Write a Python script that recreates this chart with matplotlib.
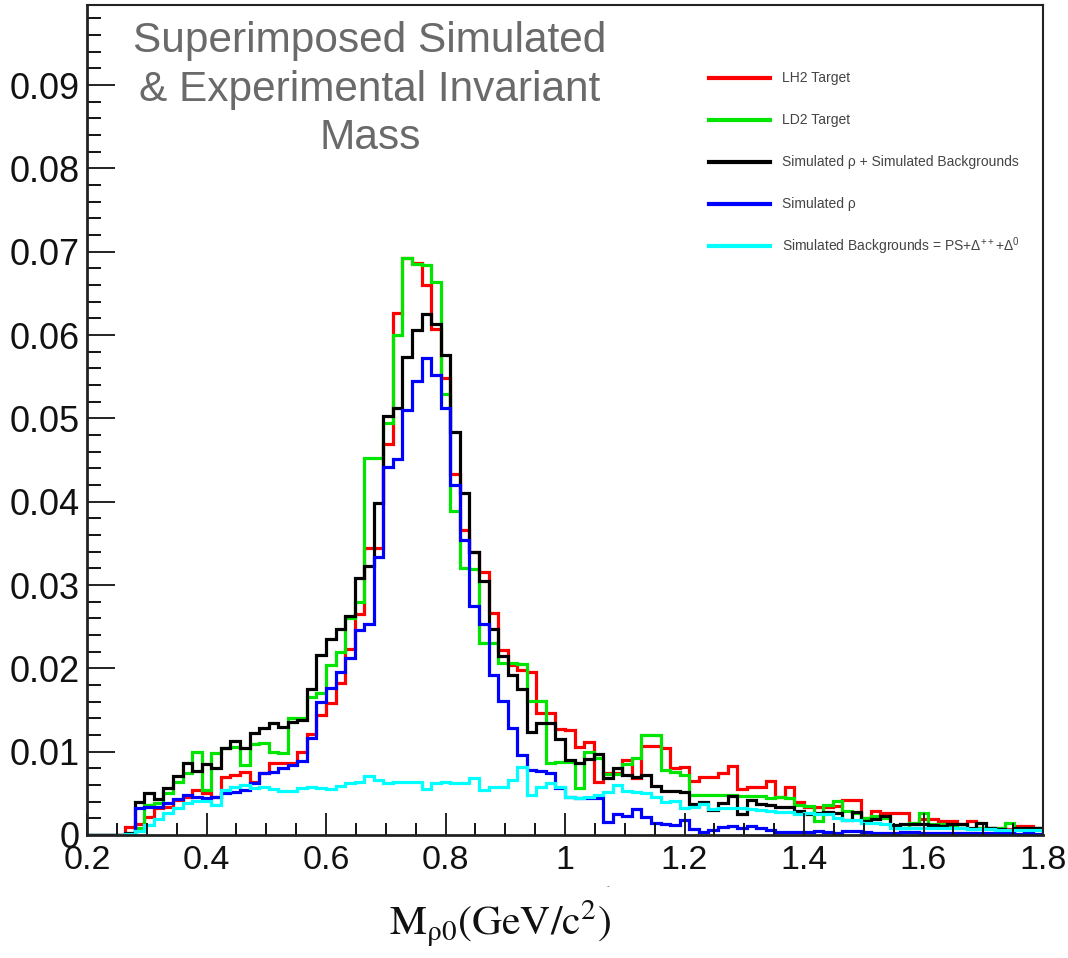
import numpy as np
import matplotlib
matplotlib.use("Agg")
import matplotlib.pyplot as plt
from matplotlib.ticker import MultipleLocator, FixedLocator, FixedFormatter
from matplotlib.lines import Line2D

# ---------------- data (histogram contents, in units of 1e-3) ----------------
x_min, x_max, n_bins = 0.2, 1.8, 100

lh2_target = [0, 0, 0, 0,
              1.0, 1.3, 2.2, 3.2, 3.4, 4.2,
              4.6, 5.4, 5.0, 4.6, 7.0, 7.2, 7.6, 6.4, 7.5, 8.6,
              8.6, 8.6, 10.0, 12.1, 14.4, 15.8, 18.2, 22.3, 26.5, 34.5,
              34.5, 46.9, 62.6, 69.3, 68.6, 66.0, 60.7, 54.8, 43.3, 36.6,
              34.0, 31.6, 26.6, 22.2, 20.4, 19.8, 19.6, 14.6, 14.6, 12.7,
              12.6, 10.6, 11.2, 6.4, 7.4, 7.4, 9.0, 6.8, 10.7, 10.7,
              10.4, 8.0, 8.2, 6.5, 7.0, 7.0, 7.5, 8.3, 5.5, 5.8,
              5.8, 6.5, 4.6, 5.8, 4.0, 3.4, 3.4, 3.4, 3.5, 4.2,
              4.2, 2.0, 2.9, 2.7, 2.6, 2.6, 1.3, 1.9, 1.9, 1.7,
              1.7, 1.3, 1.7, 0.9, 0.9, 0.8, 0.7, 1.1, 1.1, 0.9]

ld2_target = [0, 0, 0, 0, 0,
              0.8, 3.6, 3.8, 5.0, 6.4,
              7.4, 10.0, 5.4, 9.9, 10.4, 10.6, 8.4, 10.9, 11.0, 10.0,
              9.8, 14.0, 14.0, 16.6, 17.0, 20.4, 22.0, 26.0, 28.0, 45.2,
              45.2, 49.5, 60.0, 69.3, 68.5, 68.4, 66.4, 52.9, 38.9, 32.0,
              31.9, 23.0, 23.0, 20.6, 20.6, 20.5, 16.1, 16.1, 8.6, 8.8,
              8.8, 5.6, 10.0, 9.3, 7.3, 7.3, 8.5, 9.2, 12.0, 12.0,
              7.8, 7.6, 7.2, 4.8, 4.8, 4.8, 4.8, 4.8, 4.7, 4.7,
              4.7, 4.5, 4.6, 4.5, 3.6, 3.5, 1.7, 3.6, 4.1, 2.9,
              2.7, 2.1, 2.3, 2.1, 1.1, 0.9, 1.5, 2.6, 1.3, 1.3,
              1.2, 0.9, 0.7, 0.9, 0.9, 0.9, 1.4, 0.7, 0.5, 0.9]

sim_total = [0, 0, 0, 0,
             0.2, 4.0, 5.0, 4.3, 5.6, 7.1,
             8.7, 7.7, 8.5, 8.1, 10.5, 11.3, 10.4, 12.2, 12.9, 13.5,
             13.0, 13.6, 13.8, 17.5, 21.6, 23.5, 24.7, 26.3, 30.9, 32.3,
             39.8, 50.3, 51.3, 57.4, 60.6, 62.5, 61.3, 57.6, 48.4, 41.0,
             34.0, 30.5, 24.7, 21.5, 19.2, 17.5, 12.4, 13.4, 13.4, 11.5,
             9.0, 8.6, 9.1, 9.7, 6.8, 8.1, 7.2, 7.0, 7.2, 5.9,
             5.3, 5.3, 5.2, 3.7, 4.0, 3.0, 3.8, 4.7, 2.5, 4.2,
             3.7, 3.6, 3.4, 3.4, 2.9, 2.5, 2.6, 2.8, 2.7, 1.8,
             2.8, 1.7, 1.9, 2.3, 1.2, 1.3, 1.3, 1.3, 1.2, 1.1,
             1.3, 1.3, 0.9, 1.4, 0.8, 0.7, 0.5, 0.9, 0.9, 0.9]

sim_rho = [0, 0, 0, 0, 0,
           3.2, 3.4, 3.4, 3.9, 4.3,
           4.8, 4.6, 4.5, 4.6, 5.0, 5.2, 5.4, 6.2, 7.4, 7.6,
           8.0, 8.4, 8.9, 11.6, 16.0, 17.7, 19.6, 21.2, 24.6, 25.3,
           33.4, 44.2, 45.1, 51.0, 54.5, 57.2, 55.2, 51.2, 42.0, 35.4,
           27.5, 25.3, 19.2, 16.1, 12.9, 9.6, 7.8, 7.7, 7.4, 5.7,
           4.6, 4.4, 4.4, 4.5, 1.6, 2.5, 2.3, 3.1, 2.2, 1.5,
           1.3, 1.2, 1.8, 0.7, 0.35, 0.6, 1.0, 1.1, 0.8, 1.1,
           0.8, 0.65, 0.4, 0.4, 0.4, 0.35, 0.5, 0.4, 0.3, 0.5,
           0.5, 0.4, 0.3, 0.3, 0.3, 0.4, 0.4, 0.3, 0.3, 0.3,
           0.3, 0.2, 0.2, 0.3, 0.2, 0.2, 0.2, 0.1, 0.2, 0.1]

sim_background = [0, 0, 0, 0,
                  0.1, 0.5, 1.2, 1.9, 2.6, 3.2,
                  3.8, 4.1, 4.1, 3.6, 5.4, 5.8, 6.0, 5.6, 5.8, 5.5,
                  5.3, 5.3, 5.6, 5.8, 5.7, 5.5, 5.9, 6.3, 6.4, 7.1,
                  6.6, 6.2, 6.4, 6.4, 6.4, 5.5, 6.3, 6.4, 6.3, 6.2,
                  6.8, 5.4, 5.8, 5.8, 6.6, 8.2, 4.8, 5.8, 6.2, 5.8,
                  4.6, 4.4, 4.6, 4.8, 5.2, 6.0, 5.3, 5.2, 5.0, 4.6,
                  4.0, 4.1, 3.3, 3.4, 3.7, 3.1, 3.3, 3.3, 3.2, 3.1,
                  3.0, 2.9, 2.8, 2.8, 2.5, 2.6, 2.5, 2.5, 2.1, 1.8,
                  1.8, 1.5, 1.5, 1.3, 0.9, 0.9, 0.9, 0.9, 0.9, 0.9,
                  0.9, 0.9, 0.7, 0.7, 0.7, 0.6, 0.6, 0.6, 0.6, 0.6]

series_labels = ["LH2 Target", "LD2 Target",
                 "Simulated ρ + Simulated Backgrounds",
                 "Simulated ρ",
                 r"Simulated Backgrounds = PS+$\Delta^{++}$+$\Delta^{0}$"]
series_colors = ["#ff0000", "#00e600", "#000000", "#0000ff", "#00ffff"]

y_ticks = [0.0, 0.01, 0.02, 0.03, 0.04, 0.05, 0.06, 0.07, 0.08, 0.09]
y_tick_labels = ["0", "0.01", "0.02", "0.03", "0.04", "0.05", "0.06", "0.07", "0.08", "0.09"]
x_ticks = [0.2, 0.4, 0.6, 0.8, 1.0, 1.2, 1.4, 1.6, 1.8]
x_tick_labels = ["0.2", "0.4", "0.6", "0.8", "1", "1.2", "1.4", "1.6", "1.8"]

title_text = "Superimposed Simulated\n& Experimental Invariant\nMass"
xlabel_text = r"$\mathrm{M}_{\mathrm{ρ0}}\mathrm{(GeV/c^{2})}$"

# ---------------- figure ----------------
W, H = 1068, 958
fig = plt.figure(figsize=(W / 100, H / 100), dpi=100)
plt.rcParams['font.family'] = ['Liberation Sans', 'DejaVu Sans']
plt.rcParams['mathtext.fontset'] = 'custom'
plt.rcParams['mathtext.rm'] = 'Liberation Sans'
plt.rcParams['mathtext.it'] = 'Liberation Sans:italic'

ax_l, ax_r, ax_t, ax_b = 87, 1043, 5, 835
ax = fig.add_axes([ax_l / W, 1 - ax_b / H, (ax_r - ax_l) / W, (ax_b - ax_t) / H])

edges = np.linspace(x_min, x_max, n_bins + 1)
all_series = [lh2_target, ld2_target, sim_total, sim_rho, sim_background]
for vals, col in zip(all_series, series_colors):
    ax.stairs(np.asarray(vals) * 1e-3, edges, color=col, lw=2.3, baseline=0)

ax.set_xlim(x_min, x_max)
ax.set_ylim(0, 0.0996)

ax.yaxis.set_major_locator(FixedLocator(y_ticks))
ax.yaxis.set_major_formatter(FixedFormatter(y_tick_labels))
ax.yaxis.set_minor_locator(MultipleLocator(0.002))
ax.xaxis.set_major_locator(FixedLocator(x_ticks))
ax.xaxis.set_major_formatter(FixedFormatter(x_tick_labels))
ax.xaxis.set_minor_locator(MultipleLocator(0.05))

ax.tick_params(axis='y', which='major', direction='in', length=20, width=1.3,
               labelsize=26, pad=5, colors='#111111', right=False)
ax.tick_params(axis='y', which='minor', direction='in', length=10, width=1.3, right=False)
ax.tick_params(axis='x', which='major', direction='in', length=16, width=1.3,
               labelsize=24.5, pad=7, colors='#111111', top=False)
ax.tick_params(axis='x', which='minor', direction='in', length=8.5, width=1.3, top=False)
for s in ax.spines.values():
    s.set_linewidth(1.5)
    s.set_color('#222222')
ax.spines['left'].set_linewidth(2.0)
ax.spines['bottom'].set_linewidth(2.0)

# title
fig.text(370 / W, 1 - 89.5 / H, title_text, ha='center', va='center',
         fontsize=30.5, color='#6a6a6a', linespacing=1.26, multialignment='center')

# legend (drawn as a key: short line + label per series)
leg_rows_y = [78, 120, 162, 204, 246]
for ypix, col, lab in zip(leg_rows_y, series_colors, series_labels):
    fig.add_artist(Line2D([709 / W, 770 / W], [1 - ypix / H, 1 - ypix / H],
                          color=col, lw=3, transform=fig.transFigure))
    fig.text(782 / W, 1 - ypix / H, lab, ha='left', va='center',
             fontsize=10, color='#444444')

# x-axis label
fig.text(500 / W, 1 - 924 / H, xlabel_text, ha='center', va='center',
         fontsize=30, color='#111111', math_fontfamily='stix')
fig.text(608 / W, 1 - 887 / H, "-", ha='center', va='center', fontsize=6, color='#444444')

fig.savefig("out.png", dpi=100)
